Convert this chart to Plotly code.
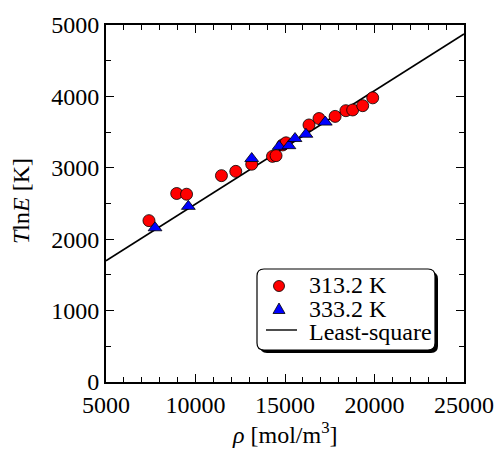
import plotly.graph_objects as go

# Data
rho_313 = [7400, 8950, 9500, 11450, 12250, 13140, 14300, 14500, 14870, 15060,
           16340, 16900, 17800, 18400, 18780, 19340, 19900]
tlne_313 = [2260, 2640, 2630, 2890, 2950, 3050, 3160, 3170, 3320, 3350,
            3600, 3690, 3720, 3800, 3810, 3870, 3980]
rho_333 = [7740, 9600, 13140, 14670, 15220, 15560, 16170, 17250]
tlne_333 = [2160, 2460, 3130, 3300, 3310, 3410, 3470, 3640]
fit_slope = 0.15875
fit_intercept = 905.0
x_range = [5000, 25000]
y_range = [0, 5000]
legend_labels = ["313.2 K", "333.2 K", "Least-square"]

FONT = "Liberation Serif"

fig = go.Figure()
fit_x = list(x_range)
fit_y = [fit_slope * v + fit_intercept for v in fit_x]
fig.add_trace(go.Scatter(x=fit_x, y=fit_y, mode="lines",
                         line=dict(color="black", width=1.6), showlegend=False,
                         cliponaxis=True))
fig.add_trace(go.Scatter(x=rho_313, y=tlne_313, mode="markers",
                         marker=dict(symbol="circle", size=12, color="#ff0000",
                                     line=dict(color="black", width=0.8)),
                         showlegend=False))
fig.add_trace(go.Scatter(x=rho_333, y=tlne_333, mode="markers",
                         marker=dict(symbol="triangle-up", size=12, color="#0000ff",
                                     line=dict(color="black", width=0.8)),
                         showlegend=False))

W, H = 498, 449
L, R, T, B = 106, 34, 25, 67
pw, ph = W - L - R, H - T - B

def px(x):
    return (x - L) / pw

def py(y):
    return (H - B - y) / ph

axis_common = dict(
    showline=True, linecolor="black", linewidth=2, mirror="allticks",
    ticks="inside", ticklen=8, tickwidth=1.4, tickcolor="black",
    showgrid=False, zeroline=False, tickformat="d",
    tickfont=dict(family=FONT, size=24, color="black"),
)
fig.update_xaxes(range=x_range, dtick=5000, tick0=5000,
                 minor=dict(dtick=1000, ticks="inside", ticklen=5, tickwidth=1.2,
                            tickcolor="black", showgrid=False),
                 **axis_common)
fig.update_yaxes(range=y_range, dtick=1000, tick0=0,
                 minor=dict(dtick=500, ticks="inside", ticklen=5, tickwidth=1.2,
                            tickcolor="black", showgrid=False),
                 **axis_common)

shapes = []
# legend box: shadow + rounded box
bx0, by0, bx1, by1 = 257, 269, 435, 350
r = 7
def rounded(x0, y0, x1, y1, r):
    X0, X1 = px(x0), px(x1)
    Y0, Y1 = py(y0), py(y1)
    rx, ry = r / pw, r / ph
    return (f"M{X0+rx},{Y0} L{X1-rx},{Y0} Q{X1},{Y0} {X1},{Y0-ry} "
            f"L{X1},{Y1+ry} Q{X1},{Y1} {X1-rx},{Y1} L{X0+rx},{Y1} "
            f"Q{X0},{Y1} {X0},{Y1+ry} L{X0},{Y0-ry} Q{X0},{Y0} {X0+rx},{Y0} Z")
shapes.append(dict(type="path", xref="paper", yref="paper",
                   path=rounded(bx0 + 3, by0 + 3, bx1 + 3, by1 + 3, r),
                   fillcolor="black", line=dict(width=0), layer="above"))
shapes.append(dict(type="path", xref="paper", yref="paper",
                   path=rounded(bx0, by0, bx1, by1, r),
                   fillcolor="white", line=dict(color="black", width=1.2), layer="above"))
# legend symbols
cx, cy, cr = 279, 286, 5.5
shapes.append(dict(type="circle", xref="paper", yref="paper",
                   x0=px(cx - cr), x1=px(cx + cr), y0=py(cy + cr), y1=py(cy - cr),
                   fillcolor="#ff0000", line=dict(color="black", width=0.8), layer="above"))
tx, ty = 279, 309
shapes.append(dict(type="path", xref="paper", yref="paper",
                   path=f"M{px(tx-6)},{py(ty+4.5)} L{px(tx+6)},{py(ty+4.5)} L{px(tx)},{py(ty-6)} Z",
                   fillcolor="#0000ff", line=dict(color="black", width=0.8), layer="above"))
shapes.append(dict(type="line", xref="paper", yref="paper",
                   x0=px(266), x1=px(297), y0=py(330), y1=py(330),
                   line=dict(color="black", width=1.4), layer="above"))

annotations = []
for lbl, yy in zip(legend_labels, [285, 309, 332]):
    annotations.append(dict(text=lbl, xref="paper", yref="paper", x=px(307), y=py(yy),
                            xanchor="left", yanchor="middle", showarrow=False,
                            font=dict(family=FONT, size=24, color="black")))
annotations.append(dict(text="<i>ρ</i> [mol/m<sup>3</sup>]", xref="paper", yref="paper",
                        x=0.5, y=py(433), xanchor="center", yanchor="middle",
                        showarrow=False, font=dict(family=FONT, size=24, color="black")))
annotations.append(dict(text="<i>T</i>ln<i>E</i> [K]", xref="paper", yref="paper",
                        x=px(21), y=py(201), xanchor="center", yanchor="middle",
                        textangle=-90, showarrow=False,
                        font=dict(family=FONT, size=24, color="black")))

fig.update_layout(width=W, height=H, margin=dict(l=L, r=R, t=T, b=B, autoexpand=False),
                  plot_bgcolor="white", paper_bgcolor="white",
                  shapes=shapes, annotations=annotations, showlegend=False)
fig.write_html("out.html")
